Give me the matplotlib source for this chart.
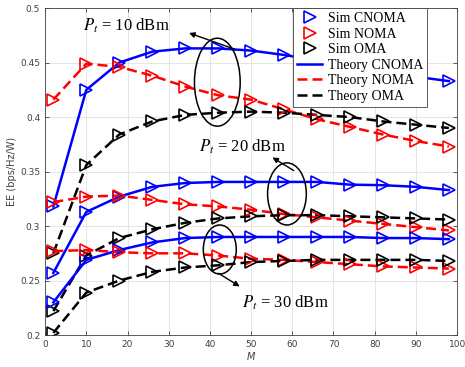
import matplotlib
matplotlib.use("Agg")
import matplotlib.pyplot as plt
from matplotlib.patches import Ellipse
from matplotlib.lines import Line2D
from matplotlib.ticker import FuncFormatter

plt.rcParams['mathtext.fontset'] = 'stix'

# number of antennas M
M = [2, 10, 18, 26, 34, 42, 50, 58, 66, 74, 82, 90, 98]

# Pt = 10 dBm
cnoma_10 = [0.318, 0.425, 0.450, 0.460, 0.463, 0.463, 0.461, 0.457, 0.452, 0.447, 0.442, 0.437, 0.433]
noma_10 = [0.416, 0.449, 0.446, 0.438, 0.428, 0.420, 0.416, 0.407, 0.398, 0.391, 0.384, 0.378, 0.373]
oma_10 = [0.275, 0.356, 0.384, 0.396, 0.402, 0.404, 0.405, 0.404, 0.402, 0.400, 0.396, 0.393, 0.390]

# Pt = 20 dBm
cnoma_20 = [0.257, 0.313, 0.327, 0.336, 0.3395, 0.3405, 0.3405, 0.3405, 0.3405, 0.338, 0.3375, 0.336, 0.333]
noma_20 = [0.322, 0.327, 0.328, 0.324, 0.320, 0.318, 0.315, 0.311, 0.308, 0.305, 0.302, 0.299, 0.296]
oma_20 = [0.222, 0.273, 0.289, 0.297, 0.303, 0.307, 0.309, 0.310, 0.310, 0.309, 0.308, 0.307, 0.306]

# Pt = 30 dBm
cnoma_30 = [0.230, 0.269, 0.278, 0.285, 0.289, 0.290, 0.290, 0.290, 0.290, 0.290, 0.289, 0.289, 0.288]
noma_30 = [0.277, 0.278, 0.276, 0.275, 0.275, 0.273, 0.270, 0.269, 0.267, 0.265, 0.263, 0.262, 0.261]
oma_30 = [0.202, 0.239, 0.250, 0.258, 0.262, 0.264, 0.267, 0.268, 0.269, 0.269, 0.269, 0.269, 0.268]

fig = plt.figure(figsize=(4.65, 3.67), dpi=100)
ax = fig.add_axes([0.097, 0.087, 0.886, 0.891])

lw = 1.8
ms = 8
mew = 1.2
dash = (4, 2)

for cn, no, om in [(cnoma_10, noma_10, oma_10), (cnoma_20, noma_20, oma_20), (cnoma_30, noma_30, oma_30)]:
    ax.plot(M, cn, color='#0000ff', lw=lw)
    ax.plot(M, no, color='#ff0000', lw=lw, dashes=dash)
    ax.plot(M, om, color='black', lw=lw, dashes=dash)
    ax.plot(M, cn, ls='none', marker='>', ms=ms, mfc='none', mec='#0000ff', mew=mew)
    ax.plot(M, no, ls='none', marker='>', ms=ms, mfc='none', mec='#ff0000', mew=mew)
    ax.plot(M, om, ls='none', marker='>', ms=ms, mfc='none', mec='black', mew=mew)

ax.set_xlim(0, 100)
ax.set_ylim(0.2, 0.5)
ax.set_xticks(range(0, 101, 10))
ax.set_yticks([0.2, 0.25, 0.3, 0.35, 0.4, 0.45, 0.5])
ax.yaxis.set_major_formatter(FuncFormatter(lambda v, p: '%g' % v))
ax.grid(True, color='#e0e0e0', lw=0.6)
ax.set_axisbelow(True)
ax.tick_params(direction='in', length=3, width=0.6, labelsize=6.5, colors='#404040',
               top=True, right=True)
for s in ax.spines.values():
    s.set_color('#404040')
    s.set_linewidth(0.6)
ax.set_xlabel('M', fontsize=7, style='italic', color='#404040', labelpad=2)
ax.set_ylabel('EE (bps/Hz/W)', fontsize=7, color='#404040', labelpad=2)

# ellipses + annotations
for (cx, cy, w, h) in [(41.8, 0.432, 11.1, 0.0807), (58.7, 0.3295, 9.4, 0.057), (42.4, 0.2785, 8.0, 0.045)]:
    ax.add_patch(Ellipse((cx, cy), w, h, fill=False, ec='black', lw=1.1, zorder=5))

arw = dict(arrowstyle='-|>', color='black', lw=1.0, mutation_scale=8)
ax.annotate('', xy=(34.3, 0.478), xytext=(46.6, 0.4615), arrowprops=arw)
ax.annotate('', xy=(54.6, 0.3643), xytext=(60.9, 0.3496), arrowprops=arw)
ax.annotate('', xy=(47.8, 0.2433), xytext=(41.5, 0.258), arrowprops=arw)

tkw = dict(fontsize=12, family='Liberation Serif', va='baseline', ha='left')
ax.text(9.2, 0.479, r'$P_t$ = 10 dBm', **tkw)
ax.text(37.4, 0.368, r'$P_t$ = 20 dBm', **tkw)
ax.text(47.8, 0.225, r'$P_t$ = 30 dBm', **tkw)

handles = [
    Line2D([], [], ls='none', marker='>', ms=ms, mfc='none', mec='#0000ff', mew=mew),
    Line2D([], [], ls='none', marker='>', ms=ms, mfc='none', mec='#ff0000', mew=mew),
    Line2D([], [], ls='none', marker='>', ms=ms, mfc='none', mec='black', mew=mew),
    Line2D([], [], color='#0000ff', lw=lw),
    Line2D([], [], color='#ff0000', lw=lw, dashes=dash),
    Line2D([], [], color='black', lw=lw, dashes=dash),
]
labels = ['Sim CNOMA', 'Sim NOMA', 'Sim OMA', 'Theory CNOMA', 'Theory NOMA', 'Theory OMA']
leg = ax.legend(handles, labels, loc='upper right', bbox_to_anchor=(0.928, 1.0), borderaxespad=0,
                prop={'family': 'Liberation Serif', 'size': 10}, fancybox=False,
                edgecolor='#404040', framealpha=1, handlelength=1.8, handletextpad=0.4,
                labelspacing=0.18, borderpad=0.3)
leg.get_frame().set_linewidth(0.6)

fig.savefig('out.png', dpi=100)
